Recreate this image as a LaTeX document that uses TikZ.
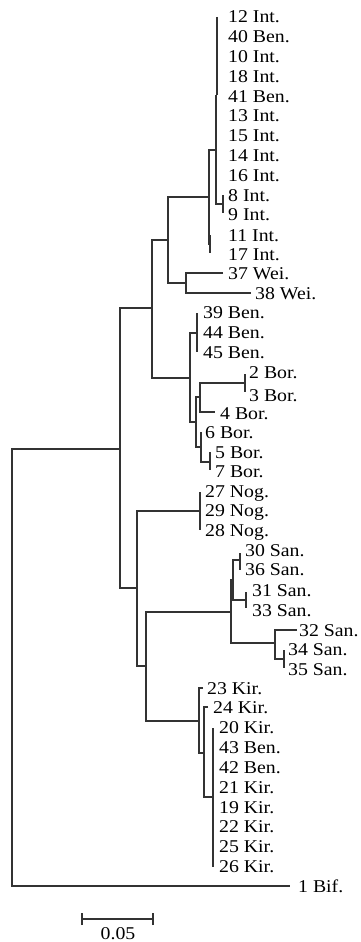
\documentclass[tikz,border=0pt]{standalone}
\usepackage{fontspec}
\setmainfont[FakeStretch=1.1]{Liberation Serif}
\begin{document}
\begin{tikzpicture}[x=1pt,y=-1pt,
  br/.style={draw=black!80,line width=1.1pt,line join=miter},
  lab/.style={anchor=base west,inner sep=0pt,font=\fontsize{18}{19}\selectfont,text=black}]
\useasboundingbox (0,0) rectangle (360,942);
\newcommand{\lbl}[4]{\node[lab] (#1) at (#2,#3+6.1) {#4};}
% branches
\draw[br] (120,449) -- (12,449) -- (12,886) -- (290,886);
\draw[br] (152,308) -- (120,308) -- (120,588) -- (137,588);
\draw[br] (168,240) -- (152,240) -- (152,378) -- (190,378);
\draw[br] (209,197) -- (168,197) -- (168,283) -- (186,283);
\draw[br] (223,273) -- (186,273) -- (186,293) -- (251,293);
\draw[br] (216,150) -- (209,150) -- (209,244) -- (210,244);
\draw[br] (210,235) -- (210,253);
\draw[br] (217,17) -- (217,95);
\draw[br] (216,95) -- (216,204) -- (223,204);
\draw[br,line width=1.8pt] (216.4,95) -- (216.4,175);
\draw[br] (223,195) -- (223,213);
\draw[br] (197,333) -- (190,333) -- (190,422) -- (196,422);
\draw[br] (197,313) -- (197,352);
\draw[br] (200,397) -- (196,397) -- (196,447) -- (201,447);
\draw[br] (245,383) -- (200,383) -- (200,412) -- (215,412);
\draw[br] (245,374) -- (245,392);
\draw[br] (201,432) -- (201,462) -- (210,462);
\draw[br] (210,452) -- (210,470);
\draw[br] (200,511) -- (137,511) -- (137,666) -- (146,666);
\draw[br] (200,492) -- (200,530);
\draw[br] (231,612) -- (146,612) -- (146,721) -- (199,721);
\draw[br] (233,580) -- (231,580) -- (231,643) -- (275,643);
\draw[br] (240,560) -- (233,560) -- (233,600) -- (246,600);
\draw[br] (240,553) -- (240,570);
\draw[br] (246,592) -- (246,608);
\draw[br] (297,630) -- (275,630) -- (275,659) -- (284,659);
\draw[br] (284,650) -- (284,668);
\draw[br] (203,688) -- (199,688) -- (199,753) -- (204,753);
\draw[br] (208,707) -- (204,707) -- (204,797) -- (213,797);
\draw[br] (213,728) -- (213,867);
% labels
\lbl{l12}{228}{16}{12 Int.}
\lbl{l40}{228}{36}{40 Ben.}
\lbl{l10}{228}{56}{10 Int.}
\lbl{l18}{228}{76}{18 Int.}
\lbl{l41}{228}{96}{41 Ben.}
\lbl{l13}{228}{115}{13 Int.}
\lbl{l15}{228}{135}{15 Int.}
\lbl{l14}{228}{155}{14 Int.}
\lbl{l16}{228}{175}{16 Int.}
\lbl{l8}{228}{195}{8 Int.}
\lbl{l9}{228}{214}{9 Int.}
\lbl{l11}{228}{235}{11 Int.}
\lbl{l17}{228}{254}{17 Int.}
\lbl{l37}{228}{273}{37 Wei.}
\lbl{l38}{255}{293}{38 Wei.}
\lbl{l39}{203}{312}{39 Ben.}
\lbl{l44}{203}{332}{44 Ben.}
\lbl{l45}{203}{352}{45 Ben.}
\lbl{l2}{249}{372}{2 Bor.}
\lbl{l3}{249}{395}{3 Bor.}
\lbl{l4}{220}{413}{4 Bor.}
\lbl{l6}{205}{432}{6 Bor.}
\lbl{l5}{215}{452}{5 Bor.}
\lbl{l7}{215}{471}{7 Bor.}
\lbl{l27}{205}{491}{27 Nog.}
\lbl{l29}{205}{510}{29 Nog.}
\lbl{l28}{205}{530}{28 Nog.}
\lbl{l30}{245}{550}{30 San.}
\lbl{l36}{245}{569}{36 San.}
\lbl{l31}{252}{590}{31 San.}
\lbl{l33}{252}{610}{33 San.}
\lbl{l32}{299}{630}{32 San.}
\lbl{l34}{288}{649}{34 San.}
\lbl{l35}{288}{669}{35 San.}
\lbl{l23}{207}{688}{23 Kir.}
\lbl{l24}{213}{707}{24 Kir.}
\lbl{l20}{219}{727}{20 Kir.}
\lbl{l43}{219}{747}{43 Ben.}
\lbl{l42}{219}{767}{42 Ben.}
\lbl{l21}{219}{787}{21 Kir.}
\lbl{l19}{219}{807}{19 Kir.}
\lbl{l22}{219}{826}{22 Kir.}
\lbl{l25}{219}{846}{25 Kir.}
\lbl{l26}{219}{866}{26 Kir.}
\lbl{l1}{298}{886}{1 Bif.}
% scale bar
\coordinate (sa) at (82,919);
\coordinate (sb) at (153,919);
\draw[br] (sa) -- (sb);
\draw[br] ([yshift=-6pt]sa) -- ([yshift=6pt]sa);
\draw[br] ([yshift=-6pt]sb) -- ([yshift=6pt]sb);
\node[lab,anchor=base] (scale) at (118,939.1) {0.05};
\end{tikzpicture}
\end{document}
